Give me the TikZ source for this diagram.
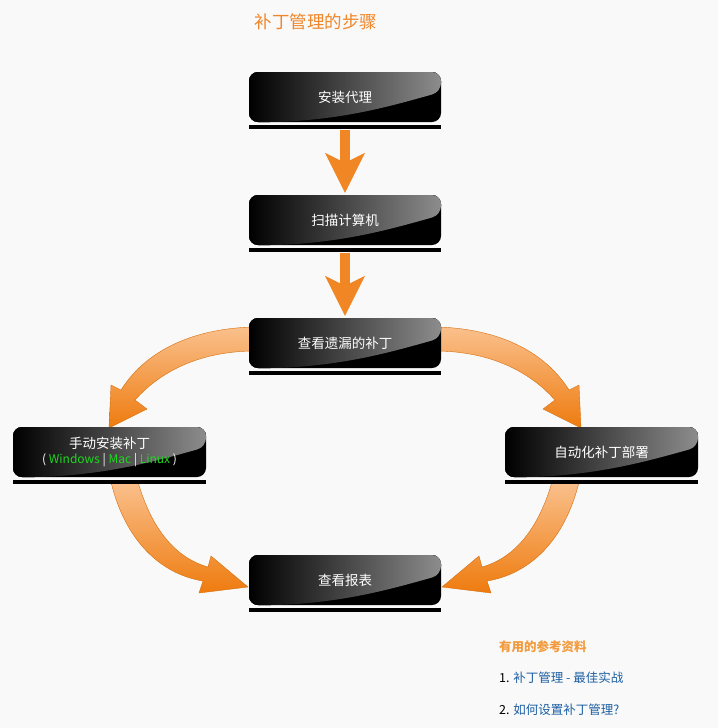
\documentclass[tikz,border=0pt]{standalone}
\usepackage{fontspec}
\setmainfont{Noto Sans CJK SC}
\usetikzlibrary{arrows.meta,calc}
\pgfdeclarelayer{shad}
\pgfsetlayers{shad,main}
\definecolor{bgc}{HTML}{F9F9F9}
\definecolor{titlec}{HTML}{F0862A}
\definecolor{refc}{HTML}{F29A3C}
\definecolor{linkc}{HTML}{1D5FA3}
\definecolor{arrc}{HTML}{F08624}
\definecolor{arrlight}{HTML}{FAC08C}
\definecolor{arrdark}{HTML}{EE7B0E}
\definecolor{osgreen}{HTML}{1ED81E}
\tikzset{
  stepbox/.style={rectangle, rounded corners=9pt, minimum width=192pt, minimum height=50pt,
    fill=black, text=white, inner sep=0pt, align=center,
    font=\fontsize{13.5}{16}\selectfont,
    path picture={
      \fill[left color=black, middle color=black!93, right color=black!45]
        ([xshift=30pt]path picture bounding box.south west)
        .. controls ([xshift=100pt,yshift=4pt]path picture bounding box.south west)
        and ([xshift=-50pt,yshift=-34pt]path picture bounding box.north east)
        .. ([yshift=-20pt]path picture bounding box.north east)
        -- (path picture bounding box.north east)
        -- (path picture bounding box.north west)
        -- (path picture bounding box.south west) -- cycle;
    }},
  boxshadow/.style={fill=black!22, rounded corners=9pt},
  underbar/.style={fill=black},
  straightarrow/.style={line width=10pt, draw=arrc,
    -{Stealth[length=40pt,width=40pt,inset=10pt,line width=0pt]}},
  curvearrow/.style={top color=arrlight, bottom color=arrdark, draw=arrdark!90!black, line width=0.4pt}
}
\begin{document}
\begin{tikzpicture}[x=1pt,y=-1pt]
\useasboundingbox (0,0) rectangle (718,728);
\fill[bgc] (0,0) rectangle (718,728);

% curved arrows (drawn first, behind boxes)
\path[curvearrow] (252,327) .. controls (190,329) and (145,352) .. (121,390)
  -- (111,385) -- (109,428) -- (147,409) -- (135,400)
  .. controls (160,372) and (198,352) .. (252,351) -- cycle;
\begin{scope}[xshift=690pt, xscale=-1]
\path[curvearrow] (252,327) .. controls (190,329) and (145,352) .. (121,390)
  -- (111,385) -- (109,428) -- (147,409) -- (135,400)
  .. controls (160,372) and (198,352) .. (252,351) -- cycle;
\end{scope}
\path[curvearrow] (111,482) .. controls (125,540) and (160,574) .. (203,581)
  -- (199,593) -- (248,587) -- (211,556) -- (208,567)
  .. controls (176,558) and (152,530) .. (138,482) -- cycle;
\begin{scope}[xshift=690pt, xscale=-1]
\path[curvearrow] (111,482) .. controls (125,540) and (160,574) .. (203,581)
  -- (199,593) -- (248,587) -- (211,556) -- (208,567)
  .. controls (176,558) and (152,530) .. (138,482) -- cycle;
\end{scope}

% title
\node[font=\fontsize{17.5}{20}\selectfont, text=titlec] (title) at (316,22) {补丁管理的步骤};

% boxes
\node[stepbox] (b1) at (345,97) {安装代理};
\node[stepbox] (b2) at (345,220) {扫描计算机};
\node[stepbox] (b3) at (345,343) {查看遗漏的补丁};
\node[stepbox, minimum width=193pt] (b4) at (109.5,452) {手动安装补丁\\[-1pt]{\fontsize{12}{14}\selectfont ( \textcolor{osgreen}{Windows} | \textcolor{osgreen}{Mac} | \textcolor{osgreen}{Linux} )}};
\node[stepbox, minimum width=193pt] (b5) at (601.5,452) {自动化补丁部署};
\node[stepbox] (b6) at (345,580) {查看报表};

% shadows and under-bars
\begin{pgfonlayer}{shad}
\foreach \b in {b1,b2,b3,b4,b5,b6}{
  \path[boxshadow] ([shift={(2pt,-2.5pt)}]\b.south west) rectangle ([shift={(2pt,-2.5pt)}]\b.north east);
}
\end{pgfonlayer}
\foreach \b in {b1,b2,b3,b4,b5,b6}{
  \path[underbar] ([yshift=-3pt]\b.south west) rectangle ([yshift=-7pt]\b.south east);
}

% straight arrows
\draw[straightarrow] ([yshift=-8pt]b1.south) -- ([yshift=2pt]b2.north);
\draw[straightarrow] ([yshift=-8pt]b2.south) -- ([yshift=2pt]b3.north);

% references
\node[anchor=west, font=\fontsize{12.5}{15}\selectfont\bfseries, text=refc, inner sep=0pt] (refs) at (499,647) {有用的参考资料};
\node[anchor=west, font=\fontsize{12.5}{15}\selectfont, inner sep=0pt] (l1) at (499,678) {1. \textcolor{linkc}{补丁管理 - 最佳实战}};
\node[anchor=west, font=\fontsize{12.5}{15}\selectfont, inner sep=0pt] (l2) at (499,710) {2. \textcolor{linkc}{如何设置补丁管理?}};
\end{tikzpicture}
\end{document}
